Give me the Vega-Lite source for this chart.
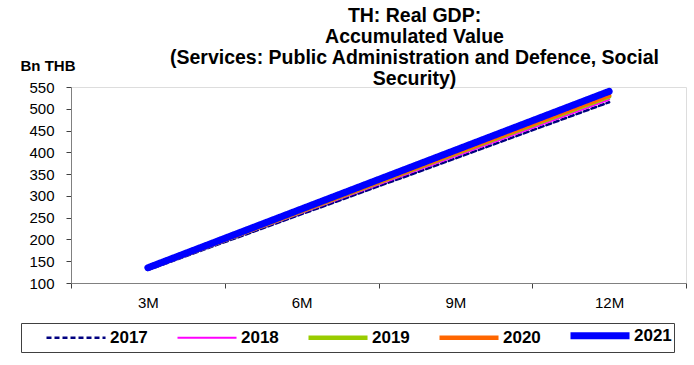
{
  "$schema": "https://vega.github.io/schema/vega-lite/v6.json",
  "width": 615,
  "height": 196,
  "padding": {"left": 71, "top": 87, "right": 8, "bottom": 82},
  "autosize": {"type": "none"},
  "background": "white",
  "title": {
    "text": ["TH: Real GDP:", "Accumulated Value", "(Services: Public Administration and Defence, Social", "Security)"],
    "font": "Liberation Sans",
    "fontSize": 19.5,
    "fontWeight": "bold",
    "lineHeight": 21,
    "color": "black",
    "anchor": "middle",
    "frame": "group",
    "offset": -31,
    "dx": 36
  },
  "data": {
    "values": [
      {"period": "3M", "year": "2017", "value": 130},
      {"period": "6M", "year": "2017", "value": 258},
      {"period": "9M", "year": "2017", "value": 386},
      {"period": "12M", "year": "2017", "value": 515},
      {"period": "3M", "year": "2018", "value": 131},
      {"period": "6M", "year": "2018", "value": 261},
      {"period": "9M", "year": "2018", "value": 391},
      {"period": "12M", "year": "2018", "value": 521},
      {"period": "3M", "year": "2019", "value": 133},
      {"period": "6M", "year": "2019", "value": 265},
      {"period": "9M", "year": "2019", "value": 397},
      {"period": "12M", "year": "2019", "value": 528},
      {"period": "3M", "year": "2020", "value": 133},
      {"period": "6M", "year": "2020", "value": 266},
      {"period": "9M", "year": "2020", "value": 399},
      {"period": "12M", "year": "2020", "value": 531},
      {"period": "3M", "year": "2021", "value": 135},
      {"period": "6M", "year": "2021", "value": 270},
      {"period": "9M", "year": "2021", "value": 405},
      {"period": "12M", "year": "2021", "value": 540}
    ]
  },
  "mark": {"type": "line", "strokeCap": "round", "strokeJoin": "round"},
  "encoding": {
    "x": {
      "field": "period",
      "type": "ordinal",
      "sort": ["3M", "6M", "9M", "12M"],
      "scale": {"type": "band", "paddingInner": 0, "paddingOuter": 0},
      "axis": {
        "title": null,
        "labelAngle": 0,
        "tickBand": "extent",
        "labelFont": "Liberation Sans",
        "labelFontSize": 15,
        "labelColor": "black",
        "labelPadding": 7,
        "domainColor": "#808080",
        "tickColor": "#404040",
        "tickSize": 5,
        "grid": false
      }
    },
    "y": {
      "field": "value",
      "type": "quantitative",
      "scale": {"domain": [100, 550], "nice": false, "zero": false},
      "axis": {
        "title": "Bn THB",
        "titleAngle": 0,
        "titleX": -51,
        "titleY": -22,
        "titleAlign": "left",
        "titleBaseline": "middle",
        "titleFont": "Liberation Sans",
        "titleFontSize": 15,
        "titleFontWeight": "bold",
        "titleColor": "black",
        "values": [100, 150, 200, 250, 300, 350, 400, 450, 500, 550],
        "labelFont": "Liberation Sans",
        "labelFontSize": 15,
        "labelColor": "black",
        "labelPadding": 12,
        "domainColor": "#808080",
        "tickColor": "#404040",
        "tickSize": 5,
        "grid": false
      }
    },
    "color": {
      "field": "year",
      "type": "ordinal",
      "scale": {"domain": ["2017", "2018", "2019", "2020", "2021"], "range": ["#000080", "#FF00FF", "#99CC00", "#FF6600", "#0000FF"]},
      "legend": {
        "title": null,
        "orient": "none",
        "legendX": -50,
        "legendY": 236,
        "direction": "horizontal",
        "columns": 5,
        "columnPadding": 6,
        "padding": 2,
        "strokeColor": "#404040",
        "fillColor": "white",
        "symbolType": "M1.857,0H10.29",
        "symbolSize": 196,
        "labelFont": "Liberation Sans",
        "labelFontSize": 17,
        "labelFontWeight": "bold",
        "labelColor": "black",
        "labelOffset": 66
      }
    },
    "strokeDash": {
      "field": "year",
      "type": "ordinal",
      "scale": {"domain": ["2017", "2018", "2019", "2020", "2021"], "range": [[5, 3], [1, 0], [1, 0], [1, 0], [1, 0]]}
    },
    "strokeWidth": {
      "field": "year",
      "type": "ordinal",
      "scale": {"type": "ordinal", "domain": ["2017", "2018", "2019", "2020", "2021"], "range": [2.5, 2, 4.5, 4.5, 7]}
    }
  }
}
